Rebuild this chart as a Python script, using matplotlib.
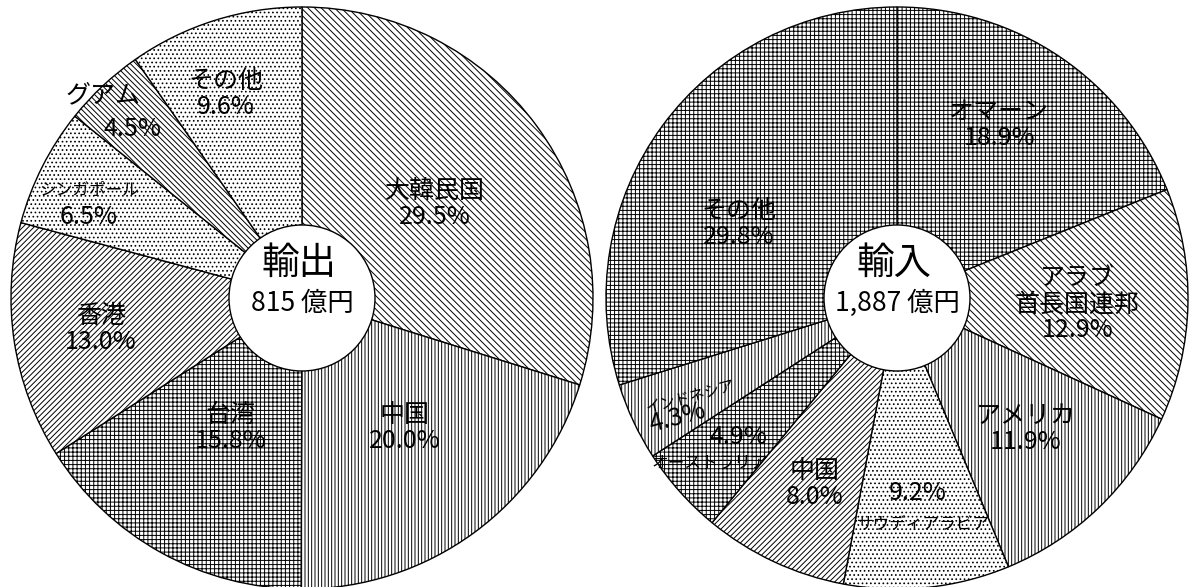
import numpy as np
import matplotlib
matplotlib.use('Agg')
import matplotlib.pyplot as plt
from matplotlib.patches import Circle

plt.rcParams['font.family'] = ['Noto Sans CJK JP', 'DejaVu Sans']
plt.rcParams['hatch.color'] = 'black'
plt.rcParams['hatch.linewidth'] = 0.7

# export shares (%), total 815 oku yen
export_names = ['大韓民国', '中国', '台湾', '香港', 'シンガポール', 'グアム', 'その他']
export_share = [29.5, 20.0, 15.8, 13.0, 6.5, 4.5, 9.6]
export_total = '815'

# import shares (%), total 1,887 oku yen
import_names = ['オマーン', 'アラブ\n首長国連邦', 'アメリカ', 'サウディアラビア', '中国',
                'オーストラリア', 'インドネシア', 'その他']
import_share = [18.9, 12.9, 11.9, 9.2, 8.0, 4.9, 4.3, 29.8]
import_total = '1,887'

W, H = 1189, 587
fig = plt.figure(figsize=(W / 100, H / 100), dpi=100)
ax = fig.add_axes([0, 0, 1, 1])

R = 291
HOLE = 73


def draw_donut(shares, names, center, hatches, layout, title, total):
    cx, cy = center
    wedges, _ = ax.pie(shares, center=center, radius=R, startangle=90,
                       counterclock=False, colors=['white'] * len(shares),
                       hatch=hatches,
                       wedgeprops=dict(edgecolor='black', linewidth=1.0))
    for w, name, val, lay in zip(wedges, names, shares, layout):
        dth, frac, noff, poff, nsize, rot = lay
        mid = np.deg2rad((w.theta1 + w.theta2) / 2 - dth)
        x = cx + frac * R * np.cos(mid)
        y = cy + frac * R * np.sin(mid)
        ax.annotate(name, (x, y), xytext=noff, textcoords='offset pixels',
                    ha='center', va='center', fontsize=nsize, rotation=rot,
                    linespacing=1.0)
        ax.annotate(f'{val:.1f}%', (x, y), xytext=poff, textcoords='offset pixels',
                    ha='center', va='center', fontsize=18, rotation=rot)
    ax.add_patch(Circle((cx, cy), HOLE, facecolor='white', edgecolor='black',
                        linewidth=1.0, zorder=5))
    ax.text(cx - 3, cy + 35, title, ha='center', va='center', fontsize=27, zorder=6)
    ax.text(cx, cy - 5, total + ' 億円', ha='center', va='center', fontsize=19, zorder=6)


# (angle shift, radius fraction, name offset, pct offset, name size, rotation)
left_layout = [
    (1, 0.56, (0, 13), (0, -13), 18, 0),
    (-2, 0.57, (0, 13), (0, -13), 18, 0),
    (0, 0.51, (0, 13), (0, -13), 18, 0),
    (0, 0.70, (0, 13), (0, -13), 18, 0),
    (-3, 0.80, (0, 13), (0, -13), 12, 0),
    (-1.5, 0.90, (-15, 16), (15, -17), 18, 0),
    (-3, 0.75, (0, 13), (0, -13), 18, 0),
]
right_layout = [
    (-3.5, 0.69, (0, 13), (0, -13), 18, 0),
    (0, 0.62, (0, 11), (0, -28), 18, 0),
    (-0.6, 0.63, (0, 13), (0, -13), 18, 0),
    (-0.4, 0.72, (3, -18), (-2, 13), 12, 0),
    (-1.2, 0.70, (0, 13), (0, -13), 18, 0),
    (0.5, 0.79, (-14, -13), (14, 12), 12, 0),
    (-2, 0.82, (6, 10), (-7, -11), 11, 15),
    (-11.2, 0.60, (0, 13), (0, -13), 18, 0),
]

left_hatch = ['\\\\\\\\\\', '|||||', '++++', '//////', '....', '\\\\\\\\\\\\', '....']
right_hatch = ['++++', '\\\\\\\\\\', '|||||', '....', '//////', '++++', '|||||', '++++']

draw_donut(export_share, export_names, (302, 289), left_hatch, left_layout, '輸出', export_total)
draw_donut(import_share, import_names, (897, 289), right_hatch, right_layout, '輸入', import_total)

ax.set_xlim(0, W)
ax.set_ylim(0, H)
ax.set_aspect('equal')
ax.axis('off')

fig.savefig('out.png', dpi=100, facecolor='white')
